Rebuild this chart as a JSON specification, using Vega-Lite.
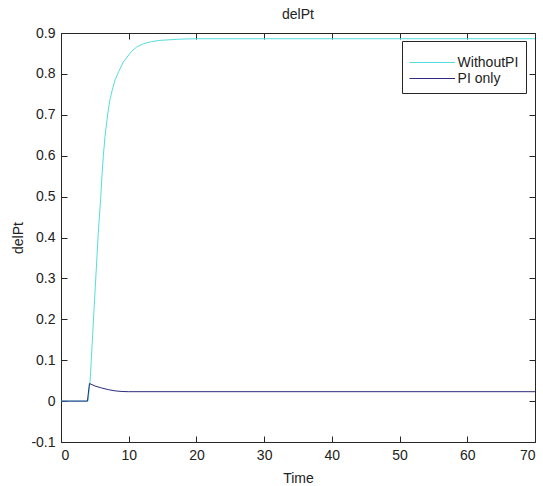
{
  "$schema": "https://vega.github.io/schema/vega-lite/v6.json",
  "autosize": "none",
  "width": 474,
  "height": 409,
  "padding": {"left": 61, "top": 33, "right": 8, "bottom": 44},
  "background": "white",
  "title": {"text": "delPt", "fontSize": 14, "font": "Liberation Sans", "fontWeight": "normal", "color": "#222", "offset": 4},
  "config": {
    "view": {"stroke": "#262626", "strokeWidth": 1},
    "axis": {
      "grid": false,
      "domain": false,
      "tickColor": "#262626",
      "tickSize": -6,
      "labelFont": "Liberation Sans",
      "labelFontSize": 14,
      "labelColor": "#222",
      "titleFont": "Liberation Sans",
      "titleFontSize": 14,
      "titleFontWeight": "normal",
      "titleColor": "#222"
    }
  },
  "data": {"values": [
    {"t": 0, "v": 0, "s": "WithoutPI"},
    {"t": 4.0, "v": 0, "s": "WithoutPI"},
    {"t": 4.3, "v": 0.049, "s": "WithoutPI"},
    {"t": 4.6, "v": 0.14, "s": "WithoutPI"},
    {"t": 4.9, "v": 0.23, "s": "WithoutPI"},
    {"t": 5.2, "v": 0.32, "s": "WithoutPI"},
    {"t": 5.5, "v": 0.41, "s": "WithoutPI"},
    {"t": 5.86, "v": 0.497, "s": "WithoutPI"},
    {"t": 6.05, "v": 0.55, "s": "WithoutPI"},
    {"t": 6.25, "v": 0.599, "s": "WithoutPI"},
    {"t": 6.5, "v": 0.647, "s": "WithoutPI"},
    {"t": 6.9, "v": 0.702, "s": "WithoutPI"},
    {"t": 7.2, "v": 0.735, "s": "WithoutPI"},
    {"t": 7.6, "v": 0.763, "s": "WithoutPI"},
    {"t": 8.0, "v": 0.786, "s": "WithoutPI"},
    {"t": 8.5, "v": 0.805, "s": "WithoutPI"},
    {"t": 9.2, "v": 0.829, "s": "WithoutPI"},
    {"t": 10.4, "v": 0.855, "s": "WithoutPI"},
    {"t": 11.2, "v": 0.866, "s": "WithoutPI"},
    {"t": 12.2, "v": 0.874, "s": "WithoutPI"},
    {"t": 13.4, "v": 0.879, "s": "WithoutPI"},
    {"t": 14.6, "v": 0.882, "s": "WithoutPI"},
    {"t": 17.6, "v": 0.885, "s": "WithoutPI"},
    {"t": 20, "v": 0.886, "s": "WithoutPI"},
    {"t": 70, "v": 0.886, "s": "WithoutPI"},
    {"t": 0, "v": 0, "s": "PI only"},
    {"t": 3.9, "v": 0, "s": "PI only"},
    {"t": 4.2, "v": 0.043, "s": "PI only"},
    {"t": 5, "v": 0.037, "s": "PI only"},
    {"t": 6, "v": 0.032, "s": "PI only"},
    {"t": 7, "v": 0.028, "s": "PI only"},
    {"t": 8, "v": 0.025, "s": "PI only"},
    {"t": 9, "v": 0.0235, "s": "PI only"},
    {"t": 10, "v": 0.023, "s": "PI only"},
    {"t": 70, "v": 0.023, "s": "PI only"}
  ]},
  "resolve": {"axis": {"x": "independent", "y": "independent"}},
  "layer": [
    {
      "mark": {"type": "line", "strokeWidth": 1, "clip": true},
      "encoding": {
        "x": {"field": "t", "type": "quantitative", "scale": {"domain": [0, 70], "nice": false, "zero": false},
              "axis": {"title": "Time", "values": [0,10,20,30,40,50,60,70], "labelPadding": 12, "titlePadding": 9, "orient": "bottom"}},
        "y": {"field": "v", "type": "quantitative", "scale": {"domain": [-0.1, 0.9], "nice": false, "zero": false},
              "axis": {"title": "delPt", "values": [-0.1,0,0.1,0.2,0.3,0.4,0.5,0.6,0.7,0.8,0.9], "labelPadding": 12, "titlePadding": 5, "orient": "left",
                       "labelExpr": "datum.value == 0 ? '0' : (datum.value < 0 ? '-' + format(-datum.value, '.1f') : format(datum.value, '.1f'))"}},
        "color": {"field": "s", "type": "nominal", "sort": ["WithoutPI", "PI only"],
                  "scale": {"domain": ["WithoutPI", "PI only"], "range": ["#55dddd", "#2b2b7a"]},
                  "legend": {"title": " ", "titleFontSize": 1, "titlePadding": 5, "orient": "none", "legendX": 341, "legendY": 8,
                             "strokeColor": "#262626", "fillColor": "white", "padding": 7,
                             "symbolType": "M-1,0H4.7", "symbolSize": 256, "symbolStrokeWidth": 1,
                             "labelOffset": 31.6, "labelFontSize": 14, "labelFont": "Liberation Sans", "labelColor": "#222",
                             "rowPadding": 0}}
      }
    },
    {
      "mark": {"type": "line", "strokeWidth": 0, "opacity": 0},
      "encoding": {
        "x": {"field": "t", "type": "quantitative", "axis": {"orient": "top", "labels": false, "title": null, "values": [0,10,20,30,40,50,60,70]}},
        "y": {"field": "v", "type": "quantitative", "axis": {"orient": "right", "labels": false, "title": null, "values": [-0.1,0,0.1,0.2,0.3,0.4,0.5,0.6,0.7,0.8,0.9]}},
        "detail": {"field": "s"}
      }
    }
  ]
}
